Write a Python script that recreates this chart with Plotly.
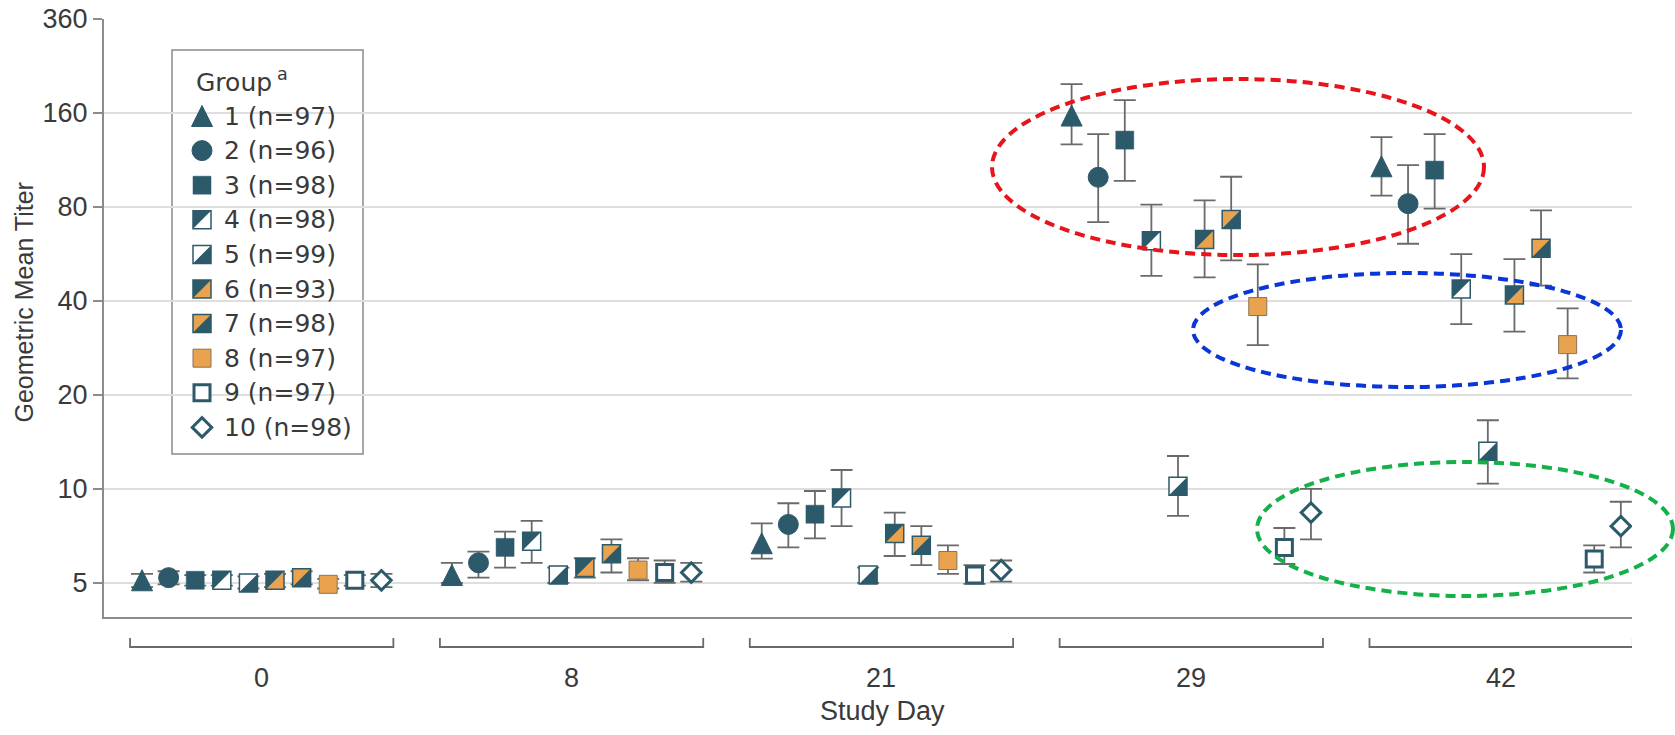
import math
import plotly.graph_objects as go

# ---------------- data ----------------
days = ["0", "8", "21", "29", "42"]
group_labels = ["1 (n=97)", "2 (n=96)", "3 (n=98)", "4 (n=98)", "5 (n=99)",
                "6 (n=93)", "7 (n=98)", "8 (n=97)", "9 (n=97)", "10 (n=98)"]

# geometric mean titers per study day, groups 1..10
gmt_day0 = [5.1, 5.2, 5.1, 5.1, 5.0, 5.1, 5.2, 4.95, 5.1, 5.1]
gmt_day8 = [5.3, 5.8, 6.5, 6.8, 5.3, 5.6, 6.2, 5.5, 5.4, 5.4]
gmt_day21 = [6.7, 7.7, 8.3, 9.35, 5.3, 7.2, 6.6, 5.9, 5.3, 5.5]
gmt_day29 = [157, 99.6, 131, 62.4, 10.2, 63, 73, 38.4, 6.5, 8.4]
gmt_day42 = [108, 82, 105, 43.7, 13.2, 41.8, 59, 29, 5.97, 7.6]

# lower / upper 95% CI
lo_day0 = [4.85, 4.95, 4.9, 4.9, 4.8, 4.85, 4.95, 4.8, 4.9, 4.85]
hi_day0 = [5.35, 5.45, 5.3, 5.3, 5.25, 5.35, 5.45, 5.15, 5.3, 5.35]
lo_day8 = [5.0, 5.2, 5.6, 5.8, 5.0, 5.2, 5.4, 5.1, 5.0, 5.05]
hi_day8 = [5.8, 6.3, 7.3, 7.9, 5.6, 6.0, 6.9, 6.0, 5.9, 5.8]
lo_day21 = [5.98, 6.5, 6.95, 7.6, 5.0, 6.1, 5.7, 5.35, 4.97, 5.05]
hi_day21 = [7.76, 9.0, 9.85, 11.5, 5.6, 8.4, 7.6, 6.6, 5.7, 5.9]
lo_day29 = [127, 71.5, 97, 48.1, 8.2, 47.6, 54, 28.9, 5.75, 6.9]
hi_day29 = [198, 137, 176, 81.4, 12.75, 84, 100, 52.4, 7.5, 10.0]
lo_day42 = [87, 61, 79, 33.7, 10.4, 31.9, 44.8, 22.6, 5.4, 6.5]
hi_day42 = [134, 109, 137, 56.5, 16.6, 54.5, 78, 37.9, 6.6, 9.1]

y_tickvals = [5, 10, 20, 40, 80, 160, 320]
y_ticktext = ["5", "10", "20", "40", "80", "160", "360"]

gmt_all = [gmt_day0, gmt_day8, gmt_day21, gmt_day29, gmt_day42]
lo_all = [lo_day0, lo_day8, lo_day21, lo_day29, lo_day42]
hi_all = [hi_day0, hi_day8, hi_day21, hi_day29, hi_day42]

# ---------------- layout constants ----------------
TEAL = "#2d5a6a"
ORANGE = "#e9a24e"
WHITE = "#ffffff"
ERR = "#6a6a6a"
TXT = "#3a3a3a"
AXIS = "#8c8c8c"

W, H = 1675, 735
M = dict(l=104, r=43, t=19, b=118, pad=0)
X_RANGE = [-1.43, 56.02]
Y_RANGE = [math.log10(3.89), math.log10(320)]
PW = W - M["l"] - M["r"]
PH = H - M["t"] - M["b"]
PX_X = PW / (X_RANGE[1] - X_RANGE[0])
PX_DEC = PH / (Y_RANGE[1] - Y_RANGE[0])
GROUP_STEP = 11.65

TICK_FONT = "Liberation Sans, Arial, sans-serif"
LEG_FONT = "DejaVu Sans, Verdana, sans-serif"

styles = [
    dict(kind="tri", size=21, color=TEAL),
    dict(kind="plain", symbol="circle", size=20, color=TEAL, lc=TEAL, lw=1),
    dict(kind="plain", symbol="square", size=18, color=TEAL, lc=TEAL, lw=0.5),
    dict(kind="half", tl=TEAL, br=WHITE, size=18),
    dict(kind="half", tl=WHITE, br=TEAL, size=18),
    dict(kind="half", tl=TEAL, br=ORANGE, size=18),
    dict(kind="half", tl=ORANGE, br=TEAL, size=18),
    dict(kind="plain", symbol="square", size=18, color=ORANGE, lc="#8a7356", lw=1),
    dict(kind="plain", symbol="square", size=16, color=WHITE, lc=TEAL, lw=3),
    dict(kind="plain", symbol="diamond", size=15, color=WHITE, lc=TEAL, lw=3),
]

fig = go.Figure()


def add_marks(xs, ys, st, err=None, xa="x", ya="y", shift_x=None, shift_y=None):
    common = dict(mode="markers", xaxis=xa, yaxis=ya, showlegend=False, hoverinfo="skip")
    if st["kind"] == "plain":
        fig.add_trace(go.Scatter(
            x=xs, y=ys, error_y=err,
            marker=dict(symbol=st["symbol"], size=st["size"], color=st["color"],
                        line=dict(color=st["lc"], width=st["lw"])), **common))
    elif st["kind"] == "tri":
        # error bars at the true position, triangle (apex-anchored arrow) centred on it
        if err is not None:
            fig.add_trace(go.Scatter(x=xs, y=ys, error_y=err,
                                     marker=dict(size=1, color="rgba(0,0,0,0)"), **common))
        r = st["size"] / 2.0
        yt = [shift_y(v, r) for v in ys]
        fig.add_trace(go.Scatter(
            x=xs, y=yt,
            marker=dict(symbol="arrow-up", size=st["size"], color=st["color"],
                        line=dict(color=st["color"], width=1)), **common))
    else:
        s = st["size"]
        fig.add_trace(go.Scatter(
            x=xs, y=ys, error_y=err,
            marker=dict(symbol="square", size=s, color=st["br"], line=dict(width=0)), **common))
        st_size = s / 0.9
        off = 0.3 * st_size / 2.0
        xt = [shift_x(v, -off) for v in xs]
        yt = [shift_y(v, off) for v in ys]
        fig.add_trace(go.Scatter(
            x=xt, y=yt,
            marker=dict(symbol="triangle-nw", size=st_size, color=st["tl"], line=dict(width=0)), **common))
        fig.add_trace(go.Scatter(
            x=xs, y=ys,
            marker=dict(symbol="square-open", size=s, color=TEAL, line=dict(color=TEAL, width=1.5)), **common))


# main data marks
for gi in range(10):
    xs, ys, up, dn = [], [], [], []
    for di in range(len(days)):
        xs.append(di * GROUP_STEP + gi)
        ys.append(gmt_all[di][gi])
        up.append(hi_all[di][gi] - gmt_all[di][gi])
        dn.append(gmt_all[di][gi] - lo_all[di][gi])
    err = dict(type="data", symmetric=False, array=up, arrayminus=dn,
               color=ERR, thickness=1.8, width=11)
    add_marks(xs, ys, styles[gi], err=err,
              shift_x=lambda v, p: v + p / PX_X,
              shift_y=lambda v, p: v * 10 ** (p / PX_DEC))

# legend (drawn on an overlay axis in plot-fraction units)
LEG_X = 202
LEG_TOP = 116
LEG_STEP = 34.6
leg_x = (LEG_X - M["l"]) / PW
for gi in range(10):
    py = LEG_TOP + gi * LEG_STEP
    yv = (H - M["b"] - py) / PH
    add_marks([leg_x], [yv], styles[gi], xa="x2", ya="y2",
              shift_x=lambda v, p: v + p / PW,
              shift_y=lambda v, p: v + p / PH)
    fig.add_annotation(xref="paper", yref="paper", x=(222 - M["l"]) / PW, y=yv,
                       xanchor="left", yanchor="middle", showarrow=False,
                       text=group_labels[gi], font=dict(family=LEG_FONT, size=25, color=TXT))

fig.add_annotation(xref="paper", yref="paper", x=(194 - M["l"]) / PW, y=(H - M["b"] - 80) / PH,
                   xanchor="left", yanchor="middle", showarrow=False,
                   text="Group\u2009<sup>a</sup>", font=dict(family=LEG_FONT, size=25, color=TXT))

# legend box
fig.add_shape(type="rect", xref="paper", yref="paper",
              x0=(172 - M["l"]) / PW, x1=(363 - M["l"]) / PW,
              y0=(H - M["b"] - 454) / PH, y1=(H - M["b"] - 50) / PH,
              line=dict(color="#8a8a8a", width=1.5), fillcolor="white", layer="between")

# day brackets and labels
for di, d in enumerate(days):
    x0 = di * GROUP_STEP - 0.45
    x1 = di * GROUP_STEP + 9.45
    ytop = -(638 - (H - M["b"])) / PH
    ybot = -(647 - (H - M["b"])) / PH
    fig.add_shape(type="path", xref="x", yref="paper",
                  path=f"M {x0},{ytop} L {x0},{ybot} L {x1},{ybot} L {x1},{ytop}",
                  line=dict(color="#6a6a6a", width=1.8))
    fig.add_annotation(xref="x", yref="paper", x=di * GROUP_STEP + 4.5,
                       y=-(678 - (H - M["b"])) / PH, yanchor="middle", showarrow=False,
                       text=d, font=dict(family=TICK_FONT, size=27, color=TXT))

fig.add_annotation(xref="paper", yref="paper", x=(882 - M["l"]) / PW,
                   y=-(711 - (H - M["b"])) / PH, yanchor="middle", showarrow=False,
                   text="Study Day", font=dict(family=TICK_FONT, size=27, color=TXT))
fig.add_annotation(xref="paper", yref="paper", x=(23 - M["l"]) / PW,
                   y=(H - M["b"] - 302.5) / PH, xanchor="center", yanchor="middle",
                   textangle=-90, showarrow=False,
                   text="Geometric Mean Titer", font=dict(family=TICK_FONT, size=25, color=TXT))


# highlight ellipses
def ell(x0, x1, y0, y1, color):
    fig.add_shape(type="circle", xref="paper", yref="paper",
                  x0=(x0 - M["l"]) / PW, x1=(x1 - M["l"]) / PW,
                  y0=(H - M["b"] - y1) / PH, y1=(H - M["b"] - y0) / PH,
                  line=dict(color=color, width=4, dash="10px,6px"), layer="above")


ell(992, 1484, 79, 255, "#e8141c")
ell(1193, 1621, 273, 387, "#0a36d8")
ell(1257, 1673, 462, 596, "#14b04a")

fig.update_layout(
    width=W, height=H, margin=M, autosize=False,
    paper_bgcolor="white", plot_bgcolor="white",
    xaxis=dict(range=X_RANGE, showgrid=False, zeroline=False, showticklabels=False,
               ticks="", showline=True, linecolor=AXIS, linewidth=2, fixedrange=True,
               automargin=False),
    yaxis=dict(type="log", range=Y_RANGE, tickvals=y_tickvals, ticktext=y_ticktext,
               showgrid=True, gridcolor="#dedede", gridwidth=2,
               ticks="outside", ticklen=9, tickwidth=1.5, tickcolor=AXIS,
               showline=True, linecolor=AXIS, linewidth=2, zeroline=False,
               tickfont=dict(family=TICK_FONT, size=27, color=TXT), fixedrange=True,
               automargin=False),
    xaxis2=dict(overlaying="x", anchor="y2", range=[0, 1], visible=False, fixedrange=True,
                automargin=False),
    yaxis2=dict(overlaying="y", anchor="x2", range=[0, 1], visible=False, fixedrange=True,
                automargin=False),
    showlegend=False,
)

fig.write_html("out.html", config={"displayModeBar": False},
               post_script="document.body.style.margin='0px';")
